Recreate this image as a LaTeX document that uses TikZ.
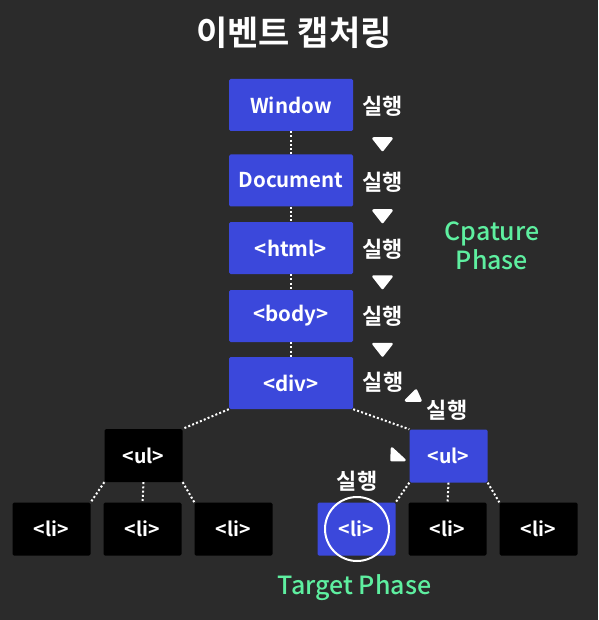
\documentclass[tikz,border=0pt]{standalone}
\usepackage{fontspec}
\setmainfont{Noto Sans CJK KR}[BoldFont={Noto Sans CJK KR Bold}]
\newfontfamily\medfont{Noto Sans CJK KR Medium}
\definecolor{bgC}{HTML}{2B2B2B}
\definecolor{blueC}{HTML}{3B48DB}
\definecolor{greenC}{HTML}{5EEFA0}
\tikzset{
  base/.style={rounded corners=1.5pt, text=white, inner sep=0pt},
  bluebox/.style={base, fill=blueC},
  blackbox/.style={base, fill=black},
  bigbox/.style={minimum width=124pt, minimum height=52pt, font=\bfseries\fontsize{20.5}{22}\selectfont},
  smallbox/.style={minimum width=78pt, minimum height=53pt, font=\bfseries\fontsize{19.5}{22}\selectfont},
  dots/.style={draw=white, line width=2pt, dash pattern=on 2pt off 2.2pt},
  lbl/.style={text=white, font=\bfseries\fontsize{22}{24}\selectfont, inner sep=0pt},
  tri/.style={fill=white, draw=white, line width=2.5pt, line join=round},
  phase/.style={text=greenC, font=\medfont\fontsize{25}{29}\selectfont, align=center, inner sep=0pt}
}
\begin{document}
\begin{tikzpicture}[x=1pt,y=-1pt]
\fill[bgC] (0,0) rectangle (598,620);
\useasboundingbox (0,0) rectangle (598,620);

\node[text=white, font=\bfseries\fontsize{34}{36}\selectfont, inner sep=0pt] (title) at (294,33) {이벤트 캡처링};

\node[bluebox,bigbox] (win) at (291,105) {Window};
\node[bluebox,bigbox] (doc) at (291,180.5) {Document};
\node[bluebox,bigbox] (html) at (291,248) {<html>};
\node[bluebox,bigbox] (body) at (291,316) {<body>};
\node[bluebox,bigbox] (div) at (291,383) {<div>};

\node[blackbox,smallbox] (ulL) at (143.5,455.5) {<ul>};
\node[bluebox,smallbox] (ulR) at (448.5,456) {<ul>};

\node[blackbox,smallbox] (li1) at (51.5,529) {<li>};
\node[blackbox,smallbox] (li2) at (142.5,529) {<li>};
\node[blackbox,smallbox] (li3) at (233.5,529) {<li>};
\node[bluebox,smallbox] (li4) at (356.5,529) {<li>};
\node[blackbox,smallbox] (li5) at (447.5,529) {<li>};
\node[blackbox,smallbox] (li6) at (538.5,529) {<li>};

\node[draw=white, line width=2pt, circle, minimum size=64pt, inner sep=0pt] (target) at (357,529) {};

\draw[dots] (win.south) -- (doc.north);
\draw[dots] (doc.south) -- (html.north);
\draw[dots] (html.south) -- (body.north);
\draw[dots] (body.south) -- (div.north);
\draw[dots] (div.south west) -- (ulL.north east);
\draw[dots] (div.south east) -- (ulR.north west);
\draw[dots] (ulL.south west) -- (li1.north east);
\draw[dots] (ulL.south) -- (li2.north);
\draw[dots] (ulL.south east) -- (li3.north west);
\draw[dots] (ulR.south west) -- (li4.north east);
\draw[dots] (ulR.south) -- (li5.north);
\draw[dots] (ulR.south east) -- (li6.north west);

\node[lbl] (e1) at (382.5,106.5) {실행};
\node[lbl] (e2) at (382.5,182) {실행};
\node[lbl] (e3) at (382.5,249.5) {실행};
\node[lbl] (e4) at (382.5,316.5) {실행};
\node[lbl] (e5) at (383,382) {실행};
\node[lbl] (e6) at (447,410) {실행};
\node[lbl] (e7) at (357,481) {실행};

\path[tri] (373.5,138.5) -- (391.5,138.5) -- (382.5,150) -- cycle;
\path[tri] (373.5,210.5) -- (391.5,210.5) -- (382.5,222) -- cycle;
\path[tri] (373.5,276.5) -- (391.5,276.5) -- (382.5,288) -- cycle;
\path[tri] (373.5,344) -- (391.5,344) -- (382.5,355.5) -- cycle;
\path[tri] (416,390.5) -- (406,400.5) -- (420.5,400.5) -- cycle;
\path[tri] (392,448.5) -- (391.5,460) -- (404.5,460) -- cycle;

\node[phase] (cap) at (492,246) {Cpature\\Phase};
\node[phase] (tgt) at (354.5,588) {Target Phase};
\end{tikzpicture}
\end{document}
